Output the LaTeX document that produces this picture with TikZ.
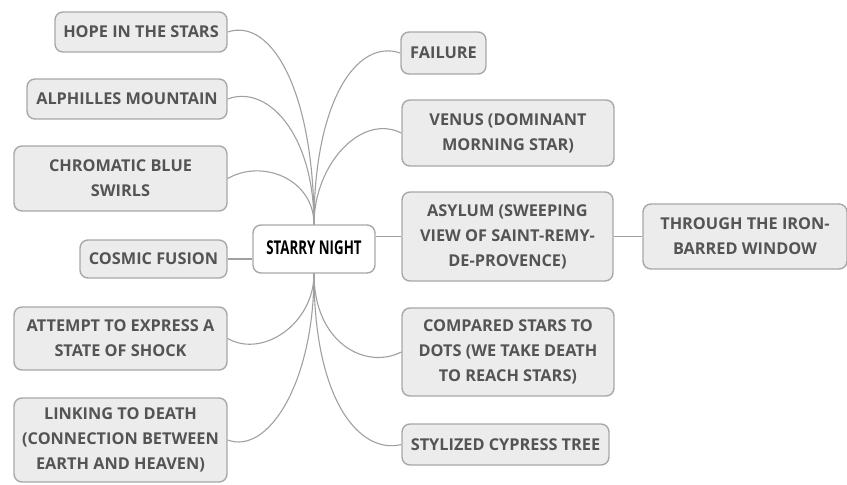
\documentclass[tikz,border=0pt]{standalone}
\usepackage{fontspec}
\setmainfont{Open Sans}
\definecolor{boxfill}{HTML}{ECECEC}
\definecolor{boxdraw}{HTML}{A8A8A8}
\definecolor{boxtext}{HTML}{545454}
\definecolor{linkcol}{HTML}{A0A0A0}
\begin{document}
\begin{tikzpicture}[x=1pt,y=-1pt,
  topic/.style={draw=boxdraw, fill=boxfill, line width=1.4pt, rounded corners=8pt,
    text=boxtext, font=\fontsize{16.3}{25}\selectfont\bfseries, align=center, inner sep=1pt},
  central/.style={draw=boxdraw, fill=white, line width=1.4pt, rounded corners=8pt,
    text=black, font=\fontsize{19}{20}\selectfont\bfseries, align=center, inner sep=2pt},
  link/.style={draw=linkcol, line width=1.1pt}]
\useasboundingbox (0,0) rectangle (847,485);
% central
\node[central, minimum width=122, minimum height=48] (c) at (314,249) {\raisebox{3pt}{\scalebox{0.7}[1]{STARRY NIGHT}}};
% left
\node[topic, minimum width=172, minimum height=40] (hope) at (141,32) {HOPE IN THE STARS};
\node[topic, minimum width=200, minimum height=40] (alph) at (127,99) {ALPHILLES MOUNTAIN};
\node[topic, minimum width=213, minimum height=65] (chrom) at (120.5,178.5) {CHROMATIC BLUE\\SWIRLS};
\node[topic, minimum width=147, minimum height=38] (cosmic) at (153.5,259) {COSMIC FUSION};
\node[topic, minimum width=213, minimum height=63] (attempt) at (120.5,338.5) {ATTEMPT TO EXPRESS A\\STATE OF SHOCK};
\node[topic, minimum width=213, minimum height=84] (link) at (120.5,440) {LINKING TO DEATH\\(CONNECTION BETWEEN\\EARTH AND HEAVEN)};
% right
\node[topic, minimum width=85, minimum height=42] (fail) at (443.5,53) {FAILURE};
\node[topic, minimum width=212, minimum height=66] (venus) at (508,133) {VENUS (DOMINANT\\MORNING STAR)};
\node[topic, minimum width=211, minimum height=89] (asylum) at (507.5,236.5) {ASYLUM (SWEEPING\\VIEW OF SAINT-REMY-\\DE-PROVENCE)};
\node[topic, minimum width=204, minimum height=65] (iron) at (745,236.5) {THROUGH THE IRON-\\BARRED WINDOW};
\node[topic, minimum width=212, minimum height=88] (comp) at (508,352) {COMPARED STARS TO\\DOTS (WE TAKE DEATH\\TO REACH STARS)};
\node[topic, minimum width=207, minimum height=41] (cyp) at (505.5,444.5) {STYLIZED CYPRESS TREE};
% connectors
\draw[link] (c.north) .. controls +(0,-130) and +(45,-15) .. (hope.east);
\draw[link] (c.north) .. controls +(0,-90) and +(40,-15) .. (alph.east);
\draw[link] (c.north) .. controls +(0,-45) and +(35,-20) .. (chrom.east);
\draw[link] (cosmic.east) -- (cosmic.east -| c.west);
\draw[link] (c.south) .. controls +(0,50) and +(35,20) .. (attempt.east);
\draw[link] (c.south) .. controls +(0,110) and +(40,15) .. (link.east);
\draw[link] (c.north) .. controls +(0,-120) and +(-45,-15) .. (fail.west);
\draw[link] (c.north) .. controls +(0,-60) and +(-40,-20) .. (venus.west);
\draw[link] (asylum.west -| c.east) -- (asylum.west);
\draw[link] (asylum.east) -- (iron.west);
\draw[link] (c.south) .. controls +(0,70) and +(-35,18) .. (comp.west);
\draw[link] (c.south) .. controls +(0,130) and +(-40,10) .. (cyp.west);
\end{tikzpicture}
\end{document}
